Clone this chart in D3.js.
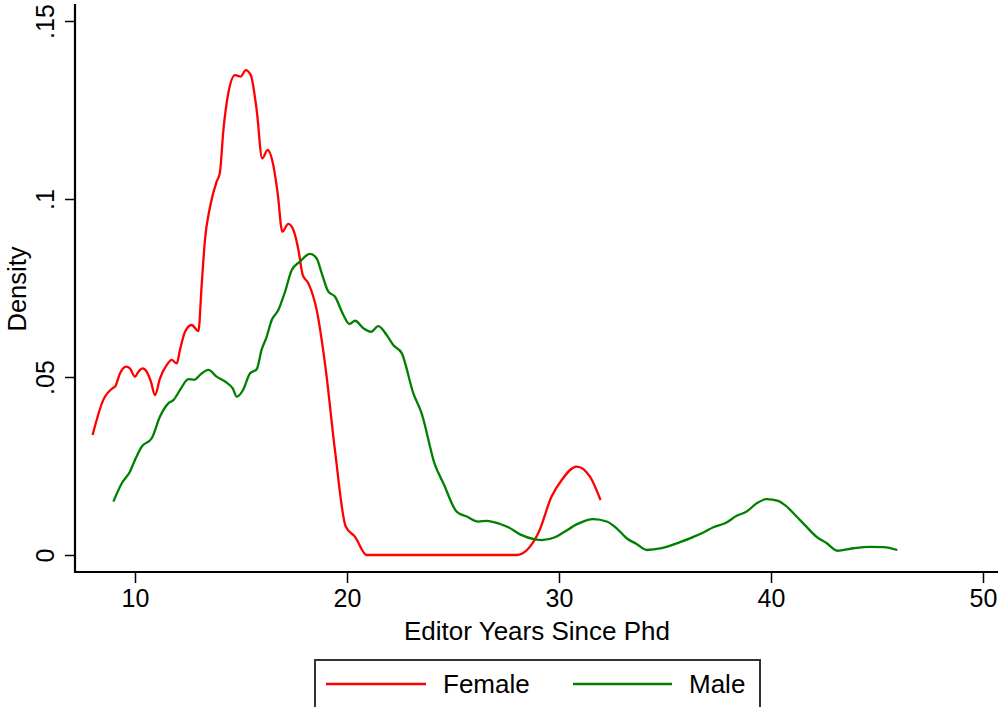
<!DOCTYPE html>
<html>
<head>
<meta charset="utf-8">
<script src="https://cdn.jsdelivr.net/npm/d3@7/dist/d3.min.js"></script>
<style>
html,body{margin:0;padding:0;background:#fff;}
svg{display:block;font-family:"Liberation Sans",Arial,Helvetica,sans-serif;}
</style>
</head>
<body>
<svg id="chart" width="998" height="707"></svg>
<script>
// Female kernel density (x = years since PhD, y = density)
const femaleX = [8.0,8.5,8.98,9.06,9.29,9.58,9.76,10.0,10.16,10.36,10.55,10.75,10.94,11.18,11.5,11.73,11.97,12.12,12.36,12.67,12.99,13.15,13.3,13.54,13.85,14.0,14.17,14.4,14.72,14.99,15.22,15.46,15.74,16.0,16.26,16.52,16.73,16.95,17.23,17.47,17.71,17.91,18.18,18.57,19.0,19.43,19.94,20.38,20.93,28.0,29.02,29.65,30.12,30.83,31.46,31.96];
const femaleY = [.0337,.0435,.047,.0473,.051,.0529,.0524,.0501,.0515,.0524,.0515,.0487,.0449,.0496,.0534,.0548,.0538,.0576,.0627,.0646,.0629,.0763,.0885,.0978,.1049,.1072,.1194,.1297,.1348,.1344,.1362,.1348,.125,.1114,.1138,.1096,.1016,.0908,.093,.0913,.0857,.0787,.0763,.0688,.052,.0295,.008,.0051,0,0,.0061,.0164,.021,.0248,.022,.0154];
// Male kernel density
const maleX = [8.98,9.37,9.76,10.0,10.31,10.79,11.18,11.57,11.81,12.12,12.52,12.8,13.07,13.46,13.85,14.32,14.61,14.8,15.11,15.42,15.74,15.97,16.21,16.45,16.76,17.08,17.39,17.78,18.25,18.57,18.81,19.12,19.43,19.83,20.11,20.38,20.77,21.13,21.48,21.87,22.18,22.58,23.13,23.52,24.15,24.55,25.17,25.65,26.19,26.59,27.22,27.61,28.16,28.87,29.18,29.81,30.2,30.83,31.62,32.25,32.72,33.19,33.66,34.14,34.84,35.71,36.34,36.81,37.28,37.83,38.38,38.85,39.32,39.79,40.34,40.66,41.21,41.6,42.15,42.63,43.13,43.88,44.67,45.3,45.96];
const maleY = [.015,.0201,.0234,.0267,.0304,.0328,.0389,.0426,.0435,.0463,.0494,.0492,.0506,.052,.0501,.0484,.0468,.0445,.0465,.051,.0522,.0576,.0613,.066,.0688,.074,.08,.0824,.0846,.0833,.0791,.074,.0726,.0674,.0649,.0658,.0637,.0627,.0643,.0618,.059,.0567,.0454,.0398,.0253,.0201,.0122,.0108,.0094,.0096,.0087,.0078,.0058,.0044,.0042,.005,.0063,.0086,.0101,.0094,.0075,.0047,.0031,.0014,.0019,.0036,.0051,.0063,.0078,.0089,.011,.0122,.0145,.0157,.0152,.014,.0108,.0084,.0051,.0033,.0012,.0019,.0023,.0022,.0014];
const xTicks = [10,20,30,40,50];
const yTicks = [0,.05,.1,.15];
const yTickLabels = ["0",".05",".1",".15"];
const seriesNames = ["Female","Male"];
const seriesColors = ["#ff0000","#008000"];

const svg = d3.select("#chart");
const x = d3.scaleLinear().domain([10,50]).range([135,983]);
const y = d3.scaleLinear().domain([0,.15]).range([555,21]);
const axisLeftX = 75, axisBottomY = 572;

// x axis
const gx = svg.append("g").attr("transform",`translate(0,${axisBottomY})`)
  .call(d3.axisBottom(x).tickValues(xTicks).tickFormat(d3.format("d")).tickSize(11).tickPadding(6));
gx.select(".domain").remove();
gx.selectAll(".tick line").attr("stroke","#000").attr("stroke-width",1.5);
gx.selectAll("text").attr("font-size",25).attr("fill","#000").attr("dy","0.71em");
svg.append("line").attr("x1",axisLeftX-1).attr("x2",998).attr("y1",axisBottomY).attr("y2",axisBottomY)
  .attr("stroke","#000").attr("stroke-width",2.2);

// y axis
const gy = svg.append("g").attr("transform",`translate(${axisLeftX},0)`)
  .call(d3.axisLeft(y).tickValues(yTicks).tickFormat((d,i)=>yTickLabels[i]).tickSize(10).tickPadding(0));
gy.select(".domain").remove();
gy.selectAll(".tick line").attr("stroke","#000").attr("stroke-width",1.5);
gy.selectAll("text").attr("font-size",25).attr("fill","#000")
  .attr("x",0).attr("dy",0)
  .attr("text-anchor","middle")
  .attr("transform","translate(-21,0) rotate(-90)");
svg.append("line").attr("x1",axisLeftX).attr("x2",axisLeftX).attr("y1",4).attr("y2",axisBottomY+1)
  .attr("stroke","#000").attr("stroke-width",2.2);

// titles
svg.append("text").attr("x",537).attr("y",640).attr("text-anchor","middle")
  .attr("font-size",26).text("Editor Years Since Phd");
svg.append("text").attr("transform","translate(26,289) rotate(-90)").attr("text-anchor","middle")
  .attr("font-size",25.5).text("Density");

// lines
const line = d3.line().x(d=>x(d[0])).y(d=>y(d[1])).curve(d3.curveMonotoneX);
const femaleData = femaleX.map((v,i)=>[v,femaleY[i]]);
const maleData = maleX.map((v,i)=>[v,maleY[i]]);
svg.append("path").datum(femaleData).attr("d",line).attr("fill","none")
  .attr("stroke",seriesColors[0]).attr("stroke-width",2.3).attr("stroke-linejoin","round");
svg.append("path").datum(maleData).attr("d",line).attr("fill","none")
  .attr("stroke",seriesColors[1]).attr("stroke-width",2.3).attr("stroke-linejoin","round");

// legend
const lg = svg.append("g");
lg.append("rect").attr("x",315).attr("y",660).attr("width",445).attr("height",60)
  .attr("fill","#fff").attr("stroke","#333").attr("stroke-width",2);
const legendItems = [
  {x1:326,x2:426,tx:443},
  {x1:573,x2:672,tx:689}
];
legendItems.forEach((it,i)=>{
  lg.append("line").attr("x1",it.x1).attr("x2",it.x2).attr("y1",684).attr("y2",684)
    .attr("stroke",seriesColors[i]).attr("stroke-width",2.3);
  lg.append("text").attr("x",it.tx).attr("y",693).attr("font-size",26).text(seriesNames[i]);
});
</script>
</body>
</html>
